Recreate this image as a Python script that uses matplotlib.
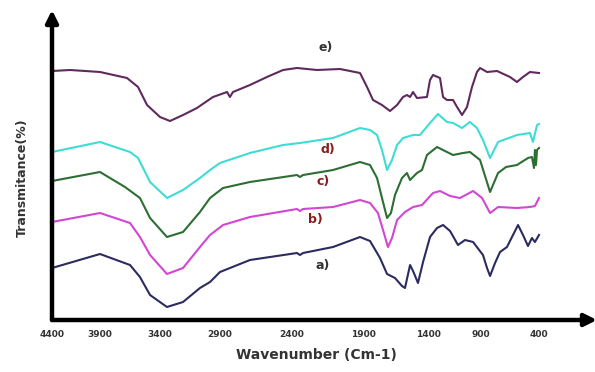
import numpy as np
import matplotlib
matplotlib.use("Agg")
import matplotlib.pyplot as plt

# tick labels and where they sit along the printed axis (the original is not evenly spaced)
tick_wn = [4400, 3900, 3400, 2900, 2400, 1900, 1400, 900, 400]
tick_pos = [52, 100, 160, 220, 292, 363, 428, 481, 539]

# spectra (wavenumber, transmittance in arbitrary units)
wn_e = [4400, 4210, 3900, 3675, 3583, 3508, 3400, 3317, 3208, 3092, 2983, 2958, 2851, 2831, 2810,
        2692, 2574, 2462, 2365, 2224, 2062, 1921, 1869, 1823, 1754, 1692, 1638, 1592, 1562, 1538,
        1515, 1485, 1408, 1381, 1353, 1287, 1258, 1221, 1164, 1126, 1079, 1032, 985, 938, 909,
        848, 762, 650, 590, 538, 478, 400]
t_e = [249, 250, 248, 242, 233, 215, 203, 199, 205, 212, 221, 223, 228, 223, 228,
       235, 243, 250, 252, 250, 251, 247, 233, 220, 215, 209, 215, 223, 225, 223,
       228, 222, 223, 240, 245, 242, 223, 220, 220, 213, 205, 213, 233, 248, 252,
       248, 249, 243, 238, 243, 248, 247]

wn_d = [4400, 3900, 3650, 3583, 3483, 3342, 3208, 3067, 2983, 2900, 2692, 2462, 2344, 2111,
        1921, 1846, 1792, 1754, 1715, 1677, 1638, 1592, 1515, 1462, 1381, 1306, 1221, 1164,
        1079, 1004, 938, 883, 822, 753, 590, 478, 452, 417, 400]
t_d = [168, 178, 168, 162, 138, 122, 130, 142, 150, 157, 167, 175, 177, 182,
       192, 190, 185, 170, 150, 160, 175, 182, 185, 185, 197, 206, 198, 197,
       192, 198, 192, 180, 162, 178, 185, 187, 178, 195, 196]

wn_c = [4400, 3900, 3692, 3567, 3483, 3342, 3208, 3067, 2983, 2879, 2692, 2365, 2344, 2322,
        2111, 1921, 1846, 1792, 1754, 1715, 1685, 1654, 1600, 1562, 1538, 1485, 1446, 1408,
        1315, 1221, 1164, 1070, 1004, 909, 822, 753, 684, 590, 495, 461, 443, 435, 426, 417, 400]
t_c = [139, 148, 133, 122, 102, 83, 88, 108, 122, 132, 138, 145, 143, 145,
       150, 158, 155, 142, 122, 102, 107, 125, 142, 147, 140, 147, 150, 165,
       173, 168, 165, 167, 168, 160, 128, 147, 153, 155, 162, 163, 152, 170, 155, 170, 172]

wn_b = [4400, 3900, 3650, 3567, 3483, 3342, 3208, 3067, 2983, 2879, 2692, 2365, 2344, 2322,
        2111, 1921, 1846, 1785, 1746, 1708, 1677, 1638, 1577, 1515, 1446, 1353, 1287, 1192,
        1098, 975, 891, 822, 753, 590, 478, 435, 400]
t_b = [98, 107, 97, 83, 65, 46, 52, 73, 85, 95, 103, 111, 109, 111,
       113, 120, 117, 107, 90, 73, 82, 100, 108, 113, 115, 127, 129, 124,
       122, 129, 122, 107, 113, 112, 113, 114, 122]

wn_a = [4400, 3900, 3650, 3567, 3483, 3342, 3208, 3067, 2983, 2900, 2692, 2365, 2344, 2322,
        2111, 1921, 1846, 1769, 1715, 1654, 1600, 1577, 1538, 1515, 1477, 1438, 1381, 1315,
        1258, 1192, 1117, 1051, 975, 883, 848, 822, 779, 736, 676, 581, 538, 495, 461, 435, 400]
t_a = [52, 66, 55, 43, 25, 13, 18, 32, 38, 48, 60, 67, 65, 67,
       73, 83, 79, 62, 46, 42, 34, 32, 55, 49, 37, 58, 83, 92,
       95, 89, 75, 80, 78, 65, 52, 44, 57, 68, 73, 95, 85, 74, 82, 78, 85]

series = [
    ("e)", wn_e, t_e, "#5e2a5e", "#333333", 2160, 273),
    ("d)", wn_d, t_d, "#3fdcd6", "#8b1c1c", 2147, 170),
    ("c)", wn_c, t_c, "#2d6e33", "#8b1c1c", 2182, 138),
    ("b)", wn_b, t_b, "#d246d2", "#8b1c1c", 2238, 100),
    ("a)", wn_a, t_a, "#2b2b60", "#333333", 2182, 55),
]

wn_ref = np.array([-100] + tick_wn[::-1], dtype=float)
pos_ref = np.array([597] + tick_pos[::-1], dtype=float)


def forward(w):
    return np.interp(w, wn_ref, pos_ref)


def inverse(p):
    return np.interp(p, pos_ref[::-1], wn_ref[::-1])


fig = plt.figure(figsize=(5.95, 3.72), dpi=100)
ax = fig.add_axes([52 / 595, 52 / 372, 545 / 595, 310 / 372])
ax.set_xscale("function", functions=(forward, inverse))
ax.set_xlim(-100, 4400)
ax.set_ylim(0, 310)

for name, w, t, col, lcol, lx, ly in series:
    ax.plot(w, t, color=col, lw=1.5, solid_joinstyle="round")
    ax.text(lx, ly, name, color=lcol, fontsize=9, fontweight="bold",
            ha="center", va="center")

for s in ax.spines.values():
    s.set_visible(False)
ax.set_yticks([])
ax.set_xticks(tick_wn)
ax.set_xticklabels([str(v) for v in tick_wn], fontsize=6.5, fontweight="bold", color="#333333")
ax.tick_params(axis="x", length=0, pad=7)

# arrow-headed axes
ax.annotate("", xy=(1.0, 0), xytext=(0, 0), xycoords="axes fraction",
            arrowprops=dict(arrowstyle="-|>", lw=3.2, color="black", mutation_scale=18,
                            shrinkA=0, shrinkB=0))
ax.annotate("", xy=(0, 1.0), xytext=(0, 0), xycoords="axes fraction",
            arrowprops=dict(arrowstyle="-|>", lw=3.2, color="black", mutation_scale=18,
                            shrinkA=0, shrinkB=0))

fig.text(316 / 595, 1 - 355 / 372, "Wavenumber (Cm-1)", fontsize=10, fontweight="bold",
         color="#333333", ha="center", va="center")
fig.text(22 / 595, 1 - 178 / 372, "Transmitance(%)", fontsize=9, fontweight="bold",
         color="#333333", ha="center", va="center", rotation=90)

fig.savefig("out.png", dpi=100)
